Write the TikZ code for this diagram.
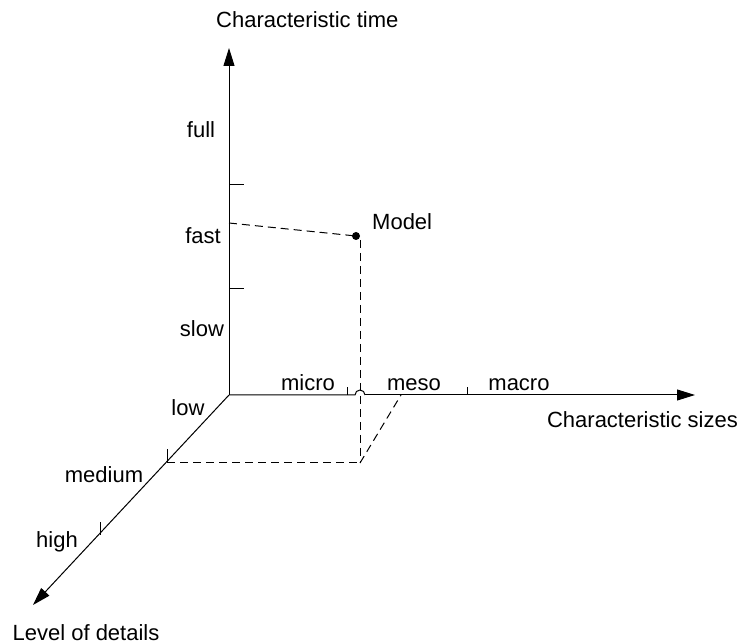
\documentclass[tikz,border=0pt]{standalone}
\usepackage{fontspec}
\setmainfont{Liberation Sans}
\usetikzlibrary{arrows.meta}
\begin{document}
\begin{tikzpicture}[x=1pt,y=-1pt,
  axis/.style={line width=1pt,-{Triangle[length=18pt,width=11pt]}},
  tick/.style={line width=0.8pt},
  guide/.style={line width=1pt,dash pattern=on 8pt off 5pt},
  lbl/.style={font=\fontsize{22}{26}\selectfont,inner sep=0pt,text height=16pt,text depth=0pt}]
\useasboundingbox (0,0) rectangle (740,644);
\coordinate (O) at (229,395);
\coordinate (T) at (229,48);
\coordinate (S) at (695,395);
\coordinate (D) at (33,605);
\coordinate (hopL) at (355,395);
\coordinate (hopR) at (365,395);
% axes
\draw[line width=1pt] (O) -- (hopL) arc[start angle=180,end angle=0,radius=5pt];
\draw[axis] (hopR) -- (S);
\draw[axis] (O) -- (T);
\draw[axis] (O) -- (D);
% ticks
\coordinate (tv1) at (229,184);
\coordinate (tv2) at (229,288);
\draw[tick] (tv1) -- ++(15,0);
\draw[tick] (tv2) -- ++(15,0);
\coordinate (th1) at (347,395);
\coordinate (th2) at (467,395);
\draw[tick] (th1) -- ++(0,-8);
\draw[tick] (th2) -- ++(0,-8);
\coordinate (td1) at (167,463);
\coordinate (td2) at (100,535);
\draw[tick] (td1) -- ++(0,-14);
\draw[tick] (td2) -- ++(0,-13);
% model point and guides
\coordinate (fastpt) at (229,223);
\node[circle,fill=black,inner sep=0pt,minimum size=8pt] (M) at (356,236) {};
\coordinate (top) at (360,240);
\coordinate (base) at (360,463);
\coordinate (mesopt) at (401,395);
\draw[guide] (fastpt) -- (M.center);
\draw[guide] (top) -- (base);
\draw[guide] (td1) -- (base);
\draw[guide] (base) -- (mesopt);
% labels
\node[lbl,anchor=west] (lt) at (216,20) {Characteristic time};
\node[lbl] (lfull) at (201,130) {full};
\node[lbl] (lfast) at (203,236) {fast};
\node[lbl] (lslow) at (202,329) {slow};
\node[lbl] (llow) at (188,408) {low};
\node[lbl] (lmicro) at (308,383) {micro};
\node[lbl] (lmeso) at (414,383) {meso};
\node[lbl] (lmacro) at (519,383) {macro};
\node[lbl,anchor=east] (ls) at (738,420) {Characteristic sizes};
\node[lbl] (lmed) at (104,475) {medium};
\node[lbl] (lhigh) at (57,540) {high};
\node[lbl] (ld) at (86,632) {Level of details};
\node[lbl,anchor=west] (lmodel) at (372,222) {Model};
\end{tikzpicture}
\end{document}
